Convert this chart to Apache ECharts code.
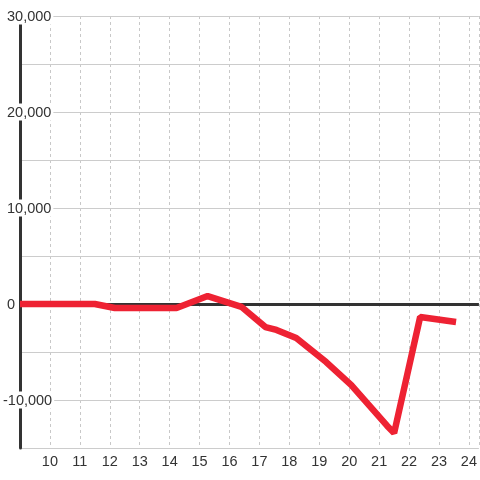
<!DOCTYPE html>
<html>
<head>
<meta charset="utf-8">
<script src="https://cdn.jsdelivr.net/npm/echarts@6/dist/echarts.min.js"></script>
<style>
  html, body { margin: 0; padding: 0; background: #fff; }
  #chart { width: 480px; height: 480px; }
</style>
</head>
<body>
<div id="chart"></div>
<script>
// x positions and values of the line
var xValues = [9, 11.5, 12.17, 14.23, 15.27, 16.4, 17.2, 17.57, 18.23, 19.23, 20.07, 21.27, 21.5, 22.37, 23.57];
var yValues = [0, 0, -420, -420, 830, -300, -2400, -2700, -3550, -6050, -8450, -12700, -13450, -1350, -1880];

var chartObj = document.getElementById('chart');
var chart = echarts.init(chartObj);

var lineData = [];
for (var i = 0; i < xValues.length; i++) {
    lineData.push([xValues[i], yValues[i]]);
}

function fmtY(v) {
    if (v % 10000 !== 0) return '';
    var s = Math.abs(v).toString().replace(/\B(?=(\d{3})+(?!\d))/g, ',');
    if (v < 0) return '{n|-' + s + '}';
    return '{p|' + s + '}';
}

var option = {
    animation: false,
    grid: { left: 20, right: 0, top: 16, bottom: 32 },
    xAxis: {
        type: 'value',
        min: 9,
        max: 24.333,
        interval: 1,
        z: 0,
        axisLine: { show: false },
        axisTick: { show: false },
        axisLabel: {
            showMinLabel: false,
            showMaxLabel: false,
            margin: 6,
            fontSize: 14.5,
            color: '#333',
            fontFamily: 'Liberation Sans'
        },
        splitLine: {
            show: true,
            lineStyle: { color: '#c8c8c8', type: [3, 3], width: 1 }
        }
    },
    yAxis: {
        type: 'value',
        min: -15000,
        max: 30000,
        interval: 5000,
        z: 1,
        axisLine: { show: true, lineStyle: { color: '#333', width: 3 } },
        axisTick: { show: false },
        axisLabel: {
            align: 'left',
            margin: 17,
            formatter: fmtY,
            rich: {
                p: {
                    fontSize: 14.5, color: '#333', fontFamily: 'Liberation Sans',
                    backgroundColor: '#fff', padding: [2, 2, 0, 4], lineHeight: 12
                },
                n: {
                    fontSize: 14.5, color: '#333', fontFamily: 'Liberation Sans',
                    backgroundColor: '#fff', padding: [2, 2, 0, 0], lineHeight: 12
                }
            }
        },
        splitLine: {
            show: true,
            lineStyle: { color: '#ccc', width: 1 }
        }
    },
    series: [
        {
            type: 'line',
            z: 3,
            data: lineData,
            symbol: 'none',
            lineStyle: { color: '#ee2233', width: 6.5 },
            markLine: {
                z: 2,
                silent: true,
                symbol: 'none',
                label: { show: false },
                lineStyle: { color: '#333', width: 3, type: 'solid' },
                data: [{ yAxis: 0 }]
            }
        }
    ]
};
chart.setOption(option);
</script>
</body>
</html>
